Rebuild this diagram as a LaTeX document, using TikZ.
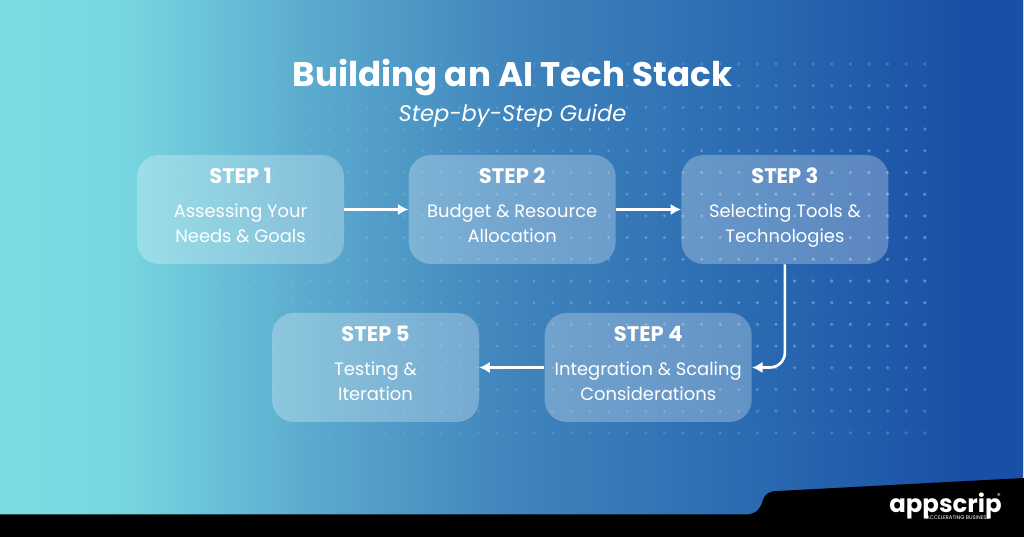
\documentclass[tikz,border=0pt]{standalone}
\usepackage{fontspec}
\setmainfont{Poppins}
\usepackage{tikz}
\usetikzlibrary{
  positioning,
  arrows.meta
}
\pgfdeclarehorizontalshading{bgshade}{100bp}{
  rgb(0bp)=(0.49,0.86,0.89);
  rgb(25bp)=(0.49,0.86,0.89);
  rgb(31bp)=(0.47,0.84,0.88);
  rgb(40bp)=(0.36,0.67,0.81);
  rgb(50bp)=(0.25,0.52,0.74);
  rgb(62.5bp)=(0.16,0.41,0.69);
  rgb(72bp)=(0.10,0.31,0.65);
  rgb(100bp)=(0.10,0.31,0.65)
}
\tikzset{
  stepbox/.style={rounded corners=0.44cm,fill=white,fill opacity=0.27,text opacity=1,text=white,
    minimum width=4.14cm,minimum height=2.18cm,align=center,inner sep=0pt,font=\fontsize{10.2}{14.2}\selectfont},
  link/.style={draw=white,line width=1.5pt,-{Latex[length=6pt,width=6.5pt]}},
  griddot/.style={fill=white,draw=none}
}
\newcommand{\steptext}[3]{{\fontsize{12}{14.2}\selectfont\bfseries\strut #1}\\[5pt]\strut #2\\\strut #3\rule[-6pt]{0pt}{6pt}}

\begin{document}
\begin{tikzpicture}
    % background, page is 20.48 x 10.74
    \useasboundingbox (0,0) rectangle (20.48,10.74);
    \shade[shading=bgshade] (0,0) rectangle (20.48,10.74);

    % dot grid
    \foreach \i in {0,...,43} {
        \foreach \j in {0,...,17} {
            \pgfmathsetmacro{\dotx}{2.5+0.372*\i}
            \pgfmathsetmacro{\doty}{9.46-0.434*\j}
            \pgfmathsetmacro{\dotop}{(0.04+0.28*min(1,\i/36))*(0.55+0.45*sin(180*\j/17))}
            \pgfmathsetmacro{\dotr}{0.022+0.016*\i/43}
            \fill[griddot,opacity=\dotop] (\dotx,\doty) circle (\dotr);
        }
    }

    % footer
    \fill[black] (0,0) -- (0,0.45) -- (14.9,0.45) .. controls (15.12,0.45) and (15.2,0.55) .. (15.26,0.74)
        .. controls (15.3,0.86) and (15.38,0.92) .. (15.55,0.92) -- (20.48,1.18) -- (20.48,0) -- cycle;
    \fill[white,opacity=0.8] (20.45,1.18) rectangle (20.48,10.74);

    % title
    \node[text=white,font=\fontsize{19.4}{24}\selectfont\bfseries] (title) at (10.25,9.18) {Building an AI Tech Stack};
    \node[text=white,font=\fontsize{12.85}{14}\selectfont\itshape,below=-0.08cm of title] (subtitle) {Step-by-Step Guide};

    % steps
    \node[stepbox] (step1) at (4.81,6.55) {\steptext{STEP 1}{Assessing Your}{Needs \& Goals}};
    \node[stepbox,right=1.28cm of step1] (step2) {\steptext{STEP 2}{Budget \& Resource}{Allocation}};
    \node[stepbox,right=1.3cm of step2] (step3) {\steptext{STEP 3}{Selecting Tools \&}{Technologies}};
    \node[stepbox] (step5) at (7.51,3.39) {\steptext{STEP 5}{Testing \&}{Iteration}};
    \node[stepbox,right=1.3cm of step5] (step4) {\steptext{STEP 4}{Integration \& Scaling}{Considerations}};

    \draw[link] (step1) -- (step2);
    \draw[link] (step2) -- (step3);
    \draw[link,rounded corners=0.3cm] (step3.south) |- (step4.east);
    \draw[link] (step4) -- (step5);

    % logo
    \node[text=white,font=\fontsize{13.9}{16}\selectfont\bfseries,inner sep=0pt] (logo) at (18.91,0.62) {appscrip};
    \node[text=white,font=\fontsize{3}{3}\selectfont,inner sep=0pt] (tagline) at (19.16,0.38) {ACCELERATING BUSINESS};
    \node[text=white,font=\fontsize{4}{4}\selectfont,inner sep=0pt] (reg) at (19.98,0.82) {®};
\end{tikzpicture}
\end{document}
